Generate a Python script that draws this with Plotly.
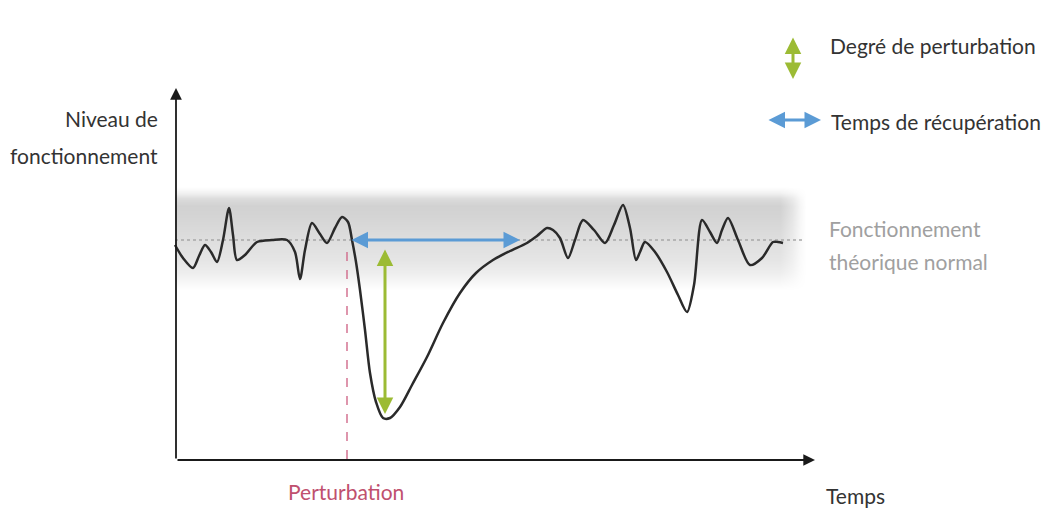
import numpy as np
import plotly.graph_objects as go

# Curve: time (x) and functioning level (y, screen-like units, axis reversed)
time = [175, 183, 193, 199, 205, 211, 217, 223, 229, 233, 237, 245, 257, 272, 287, 295, 300, 305, 312, 320, 327, 335, 342, 348,
        352, 356, 360, 365, 370, 376, 383, 390, 400, 412, 427, 443, 460, 476, 493, 510, 527, 537, 547, 553, 560, 568, 575,
        583, 594, 605, 614, 623, 630, 636, 640, 645, 655, 667, 678, 687, 694, 702, 710, 717, 722, 728, 738, 750, 762, 773, 778, 783]
level = [245, 258, 268, 256, 245, 252, 262, 240, 208, 235, 260, 255, 242, 240, 240, 252, 279, 250, 223, 234, 243, 228, 217, 222,
         240, 262, 290, 330, 373, 402, 418, 418, 407, 385, 357, 323, 293, 273, 260, 251, 243, 236, 228, 230, 238, 258, 240,
         220, 230, 243, 225, 205, 228, 260, 252, 242, 252, 272, 295, 312, 285, 220, 232, 243, 230, 218, 240, 265, 258, 242, 242, 243]

normal_level = 240
perturbation_time = 347
recovery_end = 520
trough_level = 414
axis_origin = (176, 460)
axis_end_x = 815
axis_end_y = 88

# Shading profile of the normal band (vertical darkness and right-edge fade)
band_y = [186, 192, 198, 205, 215, 240, 260, 272, 282, 290]
band_alpha = [0.0, 0.05, 0.14, 0.18, 0.17, 0.13, 0.10, 0.07, 0.03, 0.0]
band_x = [176, 780, 792, 800, 806]
band_fade = [1.0, 1.0, 0.6, 0.2, 0.0]

fig = go.Figure()

gy = np.arange(band_y[0], band_y[-1] + 1, 1.0)
gx = np.arange(band_x[0], band_x[-1] + 1, 2.0)
za = np.interp(gy, band_y, band_alpha)
zf = np.interp(gx, band_x, band_fade)
z = np.outer(za, zf)
fig.add_trace(go.Heatmap(x=gx, y=gy, z=z, zmin=0, zmax=1, zsmooth="best", showscale=False, hoverinfo="skip",
                         colorscale=[[0, "rgba(0,0,0,0)"], [1, "rgba(0,0,0,1)"]]))

# Normal level dashed line
fig.add_trace(go.Scatter(x=[175, 805], y=[normal_level, normal_level], mode="lines",
                         line=dict(color="#a8a8a8", width=1.5, dash="dot"), hoverinfo="skip", showlegend=False))

# Perturbation dashed line
fig.add_trace(go.Scatter(x=[perturbation_time, perturbation_time], y=[252, axis_origin[1]], mode="lines",
                         line=dict(color="#d06a8a", width=1.4, dash="dash"), hoverinfo="skip", showlegend=False))

# Main curve
fig.add_trace(go.Scatter(x=time, y=level, mode="lines", line=dict(color="#2a2a2a", width=2.5, shape="spline", smoothing=0.8),
                         hoverinfo="skip", showlegend=False))

ann = []
def arrow(x0, y0, x1, y1, color, width, both=False, head=2, size=1.0):
    ann.append(dict(x=x1, y=y1, ax=x0, ay=y0, xref="x", yref="y", axref="x", ayref="y",
                    showarrow=True, arrowhead=head, startarrowhead=head, arrowsize=size, startarrowsize=size,
                    arrowwidth=width, arrowcolor=color, arrowside="end+start" if both else "end", text=""))

# Axes
arrow(axis_origin[0], axis_origin[1], axis_origin[0], axis_end_y, "#1a1a1a", 1.8, head=2, size=1.3)
arrow(axis_origin[0], axis_origin[1], axis_end_x, axis_origin[1], "#1a1a1a", 1.8, head=2, size=1.3)

# Recovery time (blue) and disturbance degree (green)
blue = "#5b9bd5"
green = "#9cbb34"
arrow(350, normal_level, recovery_end, normal_level, blue, 3, both=True, head=2, size=1.1)
arrow(385, 248, 385, trough_level, green, 3, both=True, head=2, size=1.1)

# Legend arrows
arrow(793, 36, 793, 79, green, 3, both=True, head=2, size=1.1)
arrow(767, 120, 821, 120, blue, 3, both=True, head=2, size=1.1)

font = "Lato"
def text(x, y, s, color="#333333", size=21, xanchor="left"):
    ann.append(dict(x=x, y=y, xref="x", yref="y", text=s, showarrow=False, xanchor=xanchor, yanchor="middle",
                    font=dict(family=font, size=size, color=color)))

text(828, 45, "Degré de perturbation")
text(829, 121, "Temps de récupération")
text(160, 118, "Niveau de", xanchor="right")
text(160, 155, "fonctionnement", xanchor="right")
text(827, 228, "Fonctionnement", color="#a0a0a0")
text(827, 261, "théorique normal", color="#a0a0a0")
text(346, 491, "Perturbation", color="#c0506e", xanchor="center")
text(824, 495, "Temps", xanchor="left")

# The page adds an 8 px body margin; shrink the figure and shift the ranges so units match window pixels
fig.update_layout(
    width=1042, height=501, margin=dict(l=0, r=0, t=0, b=0),
    paper_bgcolor="white", plot_bgcolor="white",
    xaxis=dict(range=[8, 1050], visible=False, fixedrange=True),
    yaxis=dict(range=[509, 8], visible=False, fixedrange=True),
    annotations=ann, showlegend=False,
)

fig.write_html("out.html")
